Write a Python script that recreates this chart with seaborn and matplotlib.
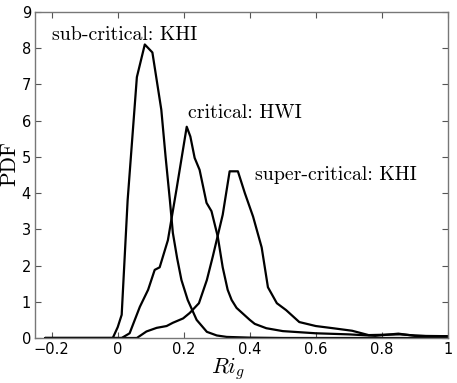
import matplotlib
matplotlib.use("Agg")
import matplotlib.pyplot as plt
import seaborn as sns
import pandas as pd

# values
sub_x = [-0.22, -0.015, 0.0, 0.012, 0.03, 0.058, 0.082, 0.105, 0.132, 0.145, 0.158, 0.167,
         0.18, 0.193, 0.212, 0.239, 0.27, 0.3, 0.33, 0.4, 0.5, 0.7, 1.0]
sub_y = [0.0, 0.0, 0.3, 0.64, 3.8, 7.2, 8.1, 7.88, 6.3, 5.0, 3.8, 2.9,
         2.2, 1.6, 1.05, 0.5, 0.17, 0.07, 0.03, 0.01, 0.0, 0.0, 0.0]

crit_x = [-0.22, 0.012, 0.036, 0.067, 0.092, 0.112, 0.127, 0.152, 0.178, 0.209, 0.22, 0.233,
          0.248, 0.269, 0.284, 0.303, 0.318, 0.333, 0.345, 0.36, 0.4, 0.415, 0.45, 0.5,
          0.6, 0.7, 0.78, 0.85, 0.9, 1.0]
crit_y = [0.0, 0.0, 0.13, 0.86, 1.33, 1.88, 1.95, 2.7, 4.1, 5.83, 5.56, 4.97,
          4.64, 3.73, 3.5, 2.8, 1.95, 1.33, 1.05, 0.83, 0.5, 0.39, 0.27, 0.19,
          0.13, 0.1, 0.06, 0.12, 0.06, 0.05]

super_x = [-0.22, 0.058, 0.087, 0.118, 0.148, 0.167, 0.198, 0.218, 0.246, 0.27, 0.288, 0.318,
           0.339, 0.364, 0.385, 0.41, 0.436, 0.455, 0.482, 0.51, 0.55, 0.6, 0.652, 0.71,
           0.76, 0.855, 0.9, 0.955, 1.0]
super_y = [0.0, 0.0, 0.18, 0.28, 0.33, 0.42, 0.54, 0.69, 0.96, 1.6, 2.25, 3.4,
           4.6, 4.6, 4.0, 3.35, 2.5, 1.4, 0.96, 0.77, 0.44, 0.33, 0.27, 0.2,
           0.08, 0.1, 0.07, 0.04, 0.05]

labels = ["sub-critical: KHI", "critical: HWI", "super-critical: KHI"]
label_x = [-0.2, 0.212, 0.415]
label_y = [8.23, 6.08, 4.36]

sns.set_style("ticks")
plt.rcParams["mathtext.fontset"] = "cm"

fig = plt.figure(figsize=(4.57, 3.83), dpi=100)
ax = fig.add_axes([0.077, 0.1175, 0.903, 0.8515])

for xs, ys in [(sub_x, sub_y), (crit_x, crit_y), (super_x, super_y)]:
    df = pd.DataFrame({"x": xs, "y": ys})
    sns.lineplot(data=df, x="x", y="y", color="black", linewidth=1.6,
                 estimator=None, sort=False, ax=ax)

for t, tx, ty in zip(labels, label_x, label_y):
    ax.text(tx, ty, t, fontsize=14.3, family="cmr10", color="black")

ax.set_xlim(-0.25, 1.0)
ax.set_ylim(0, 9)
ax.set_xticks([-0.2, 0, 0.2, 0.4, 0.6, 0.8, 1.0])
ax.set_xticklabels(["\u22120.2", "0", "0.2", "0.4", "0.6", "0.8", "1"])
ax.set_yticks(range(10))
ax.tick_params(direction="in", top=True, right=True, length=4, labelsize=10.5,
               color="#555555", labelcolor="black", pad=3)
for s in ax.spines.values():
    s.set_color("#777777")
    s.set_linewidth(1.0)

ax.set_xlabel(r"$Ri_g$", fontsize=16, color="black")
ax.xaxis.set_label_coords(0.467, -0.052)
ax.set_ylabel("PDF", fontsize=15.5, family="cmr10", color="black")
ax.yaxis.set_label_coords(-0.038, 0.534)

fig.savefig("out.png", dpi=100)
